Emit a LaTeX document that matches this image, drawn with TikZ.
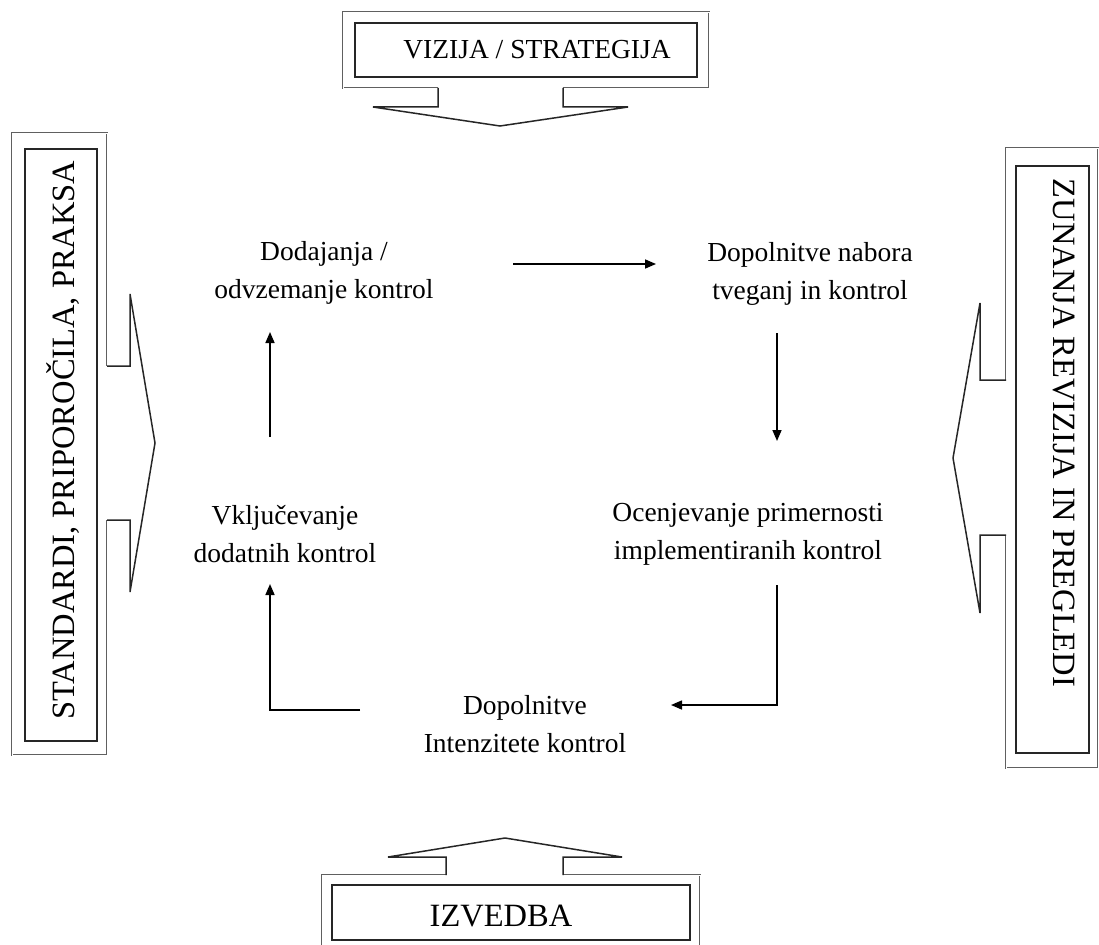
\documentclass[tikz,border=0pt]{standalone}
\usepackage{fontspec}
\setmainfont{Liberation Serif}
\usetikzlibrary{arrows.meta}
\begin{document}
\begin{tikzpicture}[x=1pt,y=-1pt,
  boxouter/.style={draw=gray!75!black, double=white, double distance=0.9pt, line width=0.9pt, line join=miter},
  boxarrow/.style={draw=black!85, line width=1.5pt, line join=miter},
  boxinner/.style={draw=black!85, line width=1.5pt},
  lbl/.style={align=center, font=\fontsize{27.5}{38}\selectfont, inner sep=0pt},
  biglbl/.style={font=\fontsize{32.5}{38}\selectfont, inner sep=0pt},
  toplbl/.style={font=\fontsize{27.5}{38}\selectfont, inner sep=0pt},
  conn/.style={draw=black, line width=1.6pt, -{Triangle[length=11pt,width=9pt]}}]
\clip (0,0) rectangle (1099,944);
% ---------- top: VIZIJA / STRATEGIJA
\draw[boxouter] (438,88) -- (343,88) -- (343,12) -- (709,12) -- (709,88) -- (563,88);
\draw[boxarrow] (438,88) -- (438,107) -- (373,107) -- (500,126) -- (628,107) -- (563,107) -- (563,88);
\draw[boxinner] (355,23) rectangle (697,77);
\node[toplbl] (vizija) at (537,50) {VIZIJA / STRATEGIJA};
% ---------- left: STANDARDI
\draw[boxouter] (107,366) -- (107,133) -- (12,133) -- (12,755) -- (107,755) -- (107,520);
\draw[boxarrow] (107,366) -- (130,366) -- (130,294) -- (155,443) -- (130,592) -- (130,520) -- (107,520);
\draw[boxinner] (25,149) rectangle (97,741);
\node[biglbl, rotate=90] (standardi) at (63,440) {STANDARDI, PRIPOROČILA, PRAKSA};
% ---------- right: ZUNANJA REVIZIJA
\draw[boxouter] (1006,380) -- (1006,148) -- (1098,148) -- (1098,768) -- (1006,768) -- (1006,535);
\draw[boxarrow] (1006,380) -- (980,380) -- (980,303) -- (953,458) -- (980,613) -- (980,535) -- (1006,535);
\draw[boxinner] (1016,166) rectangle (1089,753);
\node[biglbl, rotate=-90] (zunanja) at (1064,433) {ZUNANJA REVIZIJA IN PREGLEDI};
% ---------- bottom: IZVEDBA
\draw[boxouter] (446,875) -- (322,875) -- (322,960) -- (700,960) -- (700,875) -- (563,875);
\draw[boxarrow] (446,875) -- (446,857) -- (388,857) -- (505,838) -- (622,857) -- (563,857) -- (563,875);
\draw[boxinner] (332,885) rectangle (690,940);
\node[biglbl] (izvedba) at (501,916) {IZVEDBA};
% ---------- cycle texts
\node[lbl] (dodajanja) at (324,273) {Dodajanja /\\odvzemanje kontrol};
\node[lbl] (nabora) at (810,274) {Dopolnitve nabora\\tveganj in kontrol};
\node[lbl] (ocenj) at (748,534) {Ocenjevanje primernosti\\implementiranih kontrol};
\node[lbl] (vklj) at (285,534) {Vključevanje\\dodatnih kontrol};
\node[lbl] (intenz) at (525,724) {Dopolnitve\\Intenzitete kontrol};
% ---------- connector end points
\coordinate (a1s) at (513,264);
\coordinate (a1e) at (656,264);
\coordinate (a2s) at (777,333);
\coordinate (a2e) at (777,441);
\coordinate (a3s) at (777,585);
\coordinate (a3c) at (777,705);
\coordinate (a3e) at (671,705);
\coordinate (a4s) at (360,710);
\coordinate (a4c) at (270,710);
\coordinate (a4e) at (270,584);
\coordinate (a5s) at (270,437);
\coordinate (a5e) at (270,332);
\draw[conn] (a1s) -- (a1e);
\draw[conn] (a2s) -- (a2e);
\draw[conn] (a3s) -- (a3c) -- (a3e);
\draw[conn] (a4s) -- (a4c) -- (a4e);
\draw[conn] (a5s) -- (a5e);
\end{tikzpicture}
\end{document}
